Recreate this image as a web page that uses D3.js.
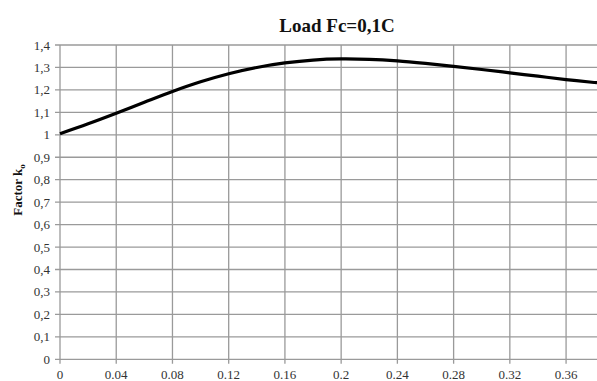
<!DOCTYPE html>
<html>
<head>
<meta charset="utf-8">
<script src="https://cdn.jsdelivr.net/npm/d3@7"></script>
<style>
  body { margin: 0; background: #fff; }
  text { font-family: "Liberation Serif", "DejaVu Serif", serif; fill: #333; }
</style>
</head>
<body>
<div id="chart"></div>
<script>
// chart size
var width = 597,
  height = 381;

// load values
var loadX = [0, 0.02, 0.04, 0.06, 0.08, 0.10, 0.12, 0.14, 0.16, 0.18, 0.20, 0.22, 0.24, 0.26, 0.28, 0.30, 0.32, 0.34, 0.36, 0.38, 0.382];
var factorK = [1.005, 1.049, 1.096, 1.145, 1.193, 1.236, 1.272, 1.300, 1.320, 1.333, 1.338, 1.336, 1.329, 1.318, 1.305, 1.291, 1.276, 1.261, 1.246, 1.233, 1.232];

var xTicks = [0, 0.04, 0.08, 0.12, 0.16, 0.2, 0.24, 0.28, 0.32, 0.36];
var yTicks = [0, 0.1, 0.2, 0.3, 0.4, 0.5, 0.6, 0.7, 0.8, 0.9, 1, 1.1, 1.2, 1.3, 1.4];

var chartTitle = "Load Fc=0,1C";

var svg = d3.select("#chart").append("svg")
  .attr("width", width)
  .attr("height", height);

var x = d3.scaleLinear().domain([0, 0.382]).range([60, 597]);
var y = d3.scaleLinear().domain([0, 1.4]).range([359.3, 45]);

var gridColor = "#9a9a9a";

// horizontal grid
svg.append("g")
  .selectAll("line")
  .data(yTicks)
  .enter()
  .append("line")
  .attr("x1", 55)
  .attr("x2", width)
  .attr("y1", function (d) { return y(d); })
  .attr("y2", function (d) { return y(d); })
  .attr("stroke", gridColor)
  .attr("stroke-width", 1.3);

// vertical grid
svg.append("g")
  .selectAll("line")
  .data(xTicks)
  .enter()
  .append("line")
  .attr("x1", function (d) { return x(d); })
  .attr("x2", function (d) { return x(d); })
  .attr("y1", y(1.4))
  .attr("y2", y(0) + 4.5)
  .attr("stroke", gridColor)
  .attr("stroke-width", 1.3);

// y tick labels
svg.append("g")
  .selectAll("text")
  .data(yTicks)
  .enter()
  .append("text")
  .attr("x", 50)
  .attr("y", function (d) { return y(d) + 4.5; })
  .attr("text-anchor", "end")
  .style("font-size", "13px")
  .text(function (d) { return d3.format(".1f")(d).replace(".", ",").replace(/,0$/, ""); });

// x tick labels
svg.append("g")
  .selectAll("text")
  .data(xTicks)
  .enter()
  .append("text")
  .attr("x", function (d) { return x(d); })
  .attr("y", 379)
  .attr("text-anchor", "middle")
  .style("font-size", "13px")
  .text(function (d) { return d; });

// the curve
var line = d3.line()
  .x(function (d, i) { return x(loadX[i]); })
  .y(function (d) { return y(d); })
  .curve(d3.curveCatmullRom);

svg.append("path")
  .datum(factorK)
  .attr("d", line)
  .attr("fill", "none")
  .attr("stroke", "#000")
  .attr("stroke-width", 3.2);

// title
svg.append("text")
  .attr("x", 337)
  .attr("y", 32)
  .attr("text-anchor", "middle")
  .style("font-size", "19px")
  .style("font-weight", "bold")
  .style("fill", "#111")
  .text(chartTitle);

// y axis label
var ylab = svg.append("text")
  .attr("transform", "translate(22,190) rotate(-90)")
  .attr("text-anchor", "middle")
  .style("font-size", "13px")
  .style("font-weight", "bold")
  .style("fill", "#111");
ylab.append("tspan").text("Factor k");
ylab.append("tspan").attr("dy", 3).style("font-size", "9px").text("o");
</script>
</body>
</html>
